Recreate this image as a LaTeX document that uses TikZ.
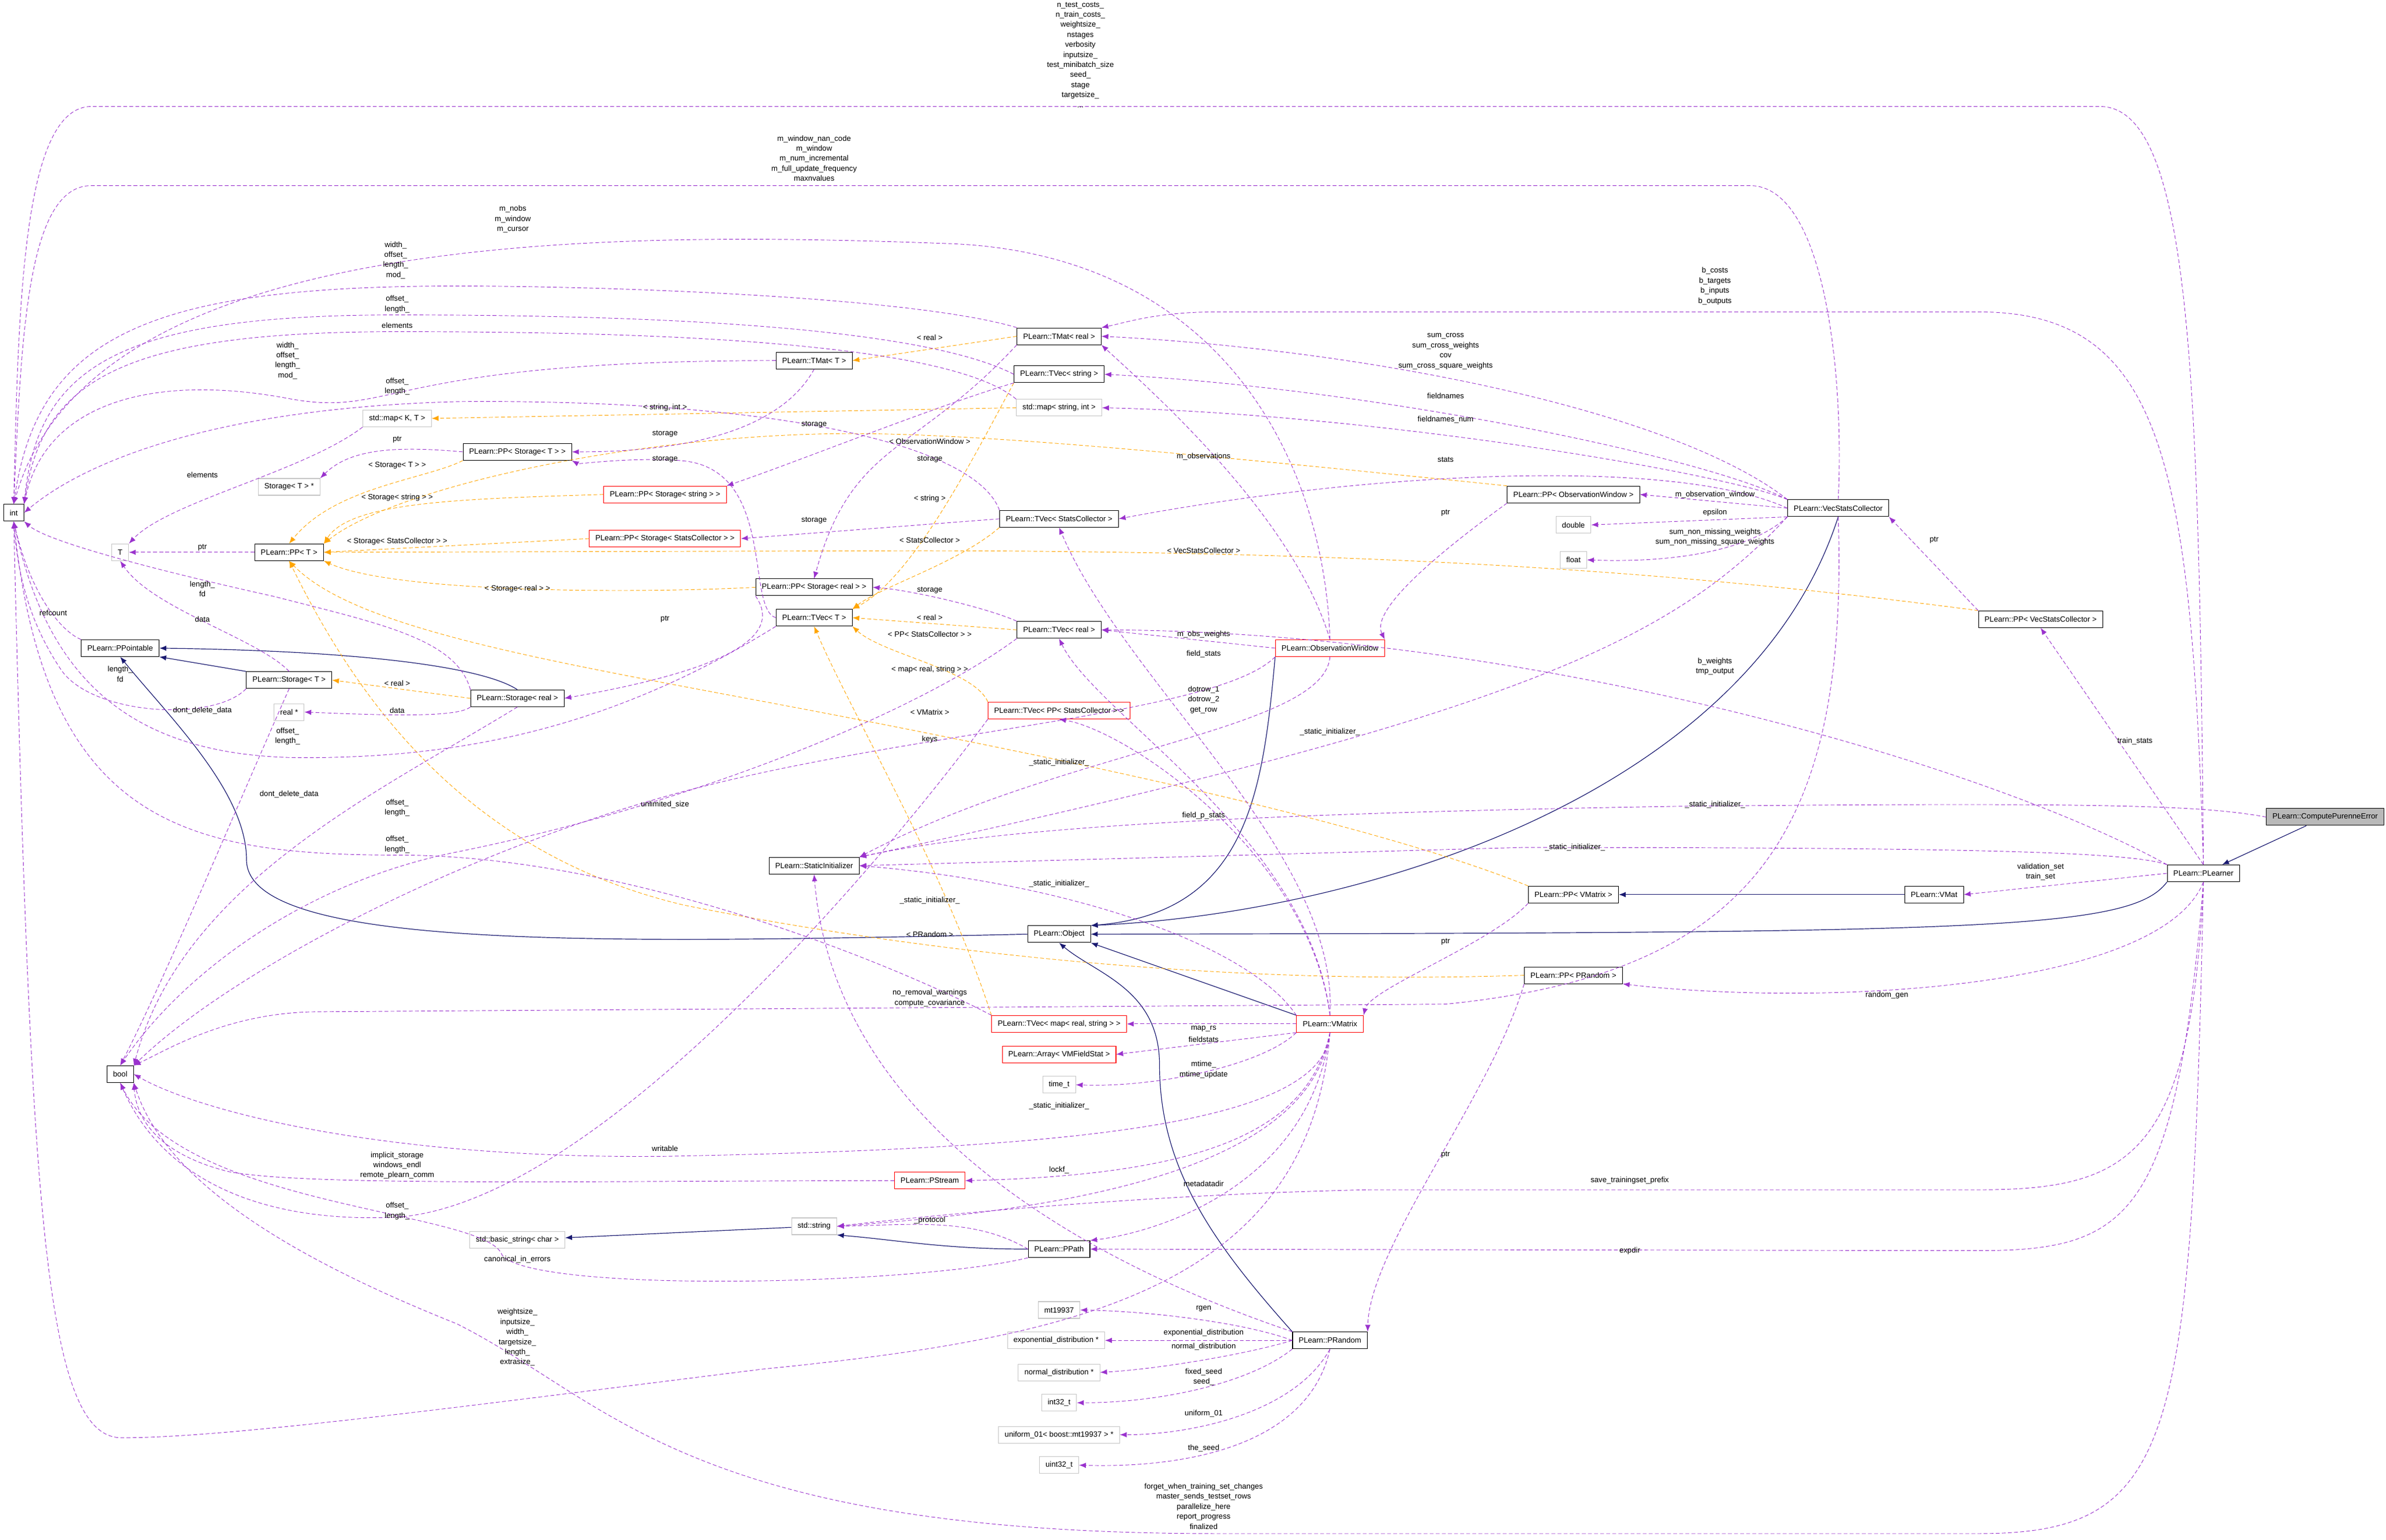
\documentclass[tikz,border=0pt]{standalone}
\usepackage{fontspec}
\setmainfont{Liberation Sans}
\usetikzlibrary{arrows.meta}
\definecolor{purp}{HTML}{9A32CD}
\definecolor{orng}{HTML}{FFA500}
\definecolor{navyb}{HTML}{191970}
\begin{document}
\begin{tikzpicture}[x=1pt,y=-1pt,
  every node/.style={font=\fontsize{5}{6.6}\selectfont},
  box/.style={draw=black,minimum height=11pt,inner xsep=4pt,inner ysep=1pt},
  gbox/.style={draw=gray!45,minimum height=11pt,inner xsep=4pt,inner ysep=1pt},
  rbox/.style={draw=red,minimum height=11pt,inner xsep=4pt,inner ysep=1pt},
  cbox/.style={draw=black,fill=gray!55,minimum height=11pt,inner xsep=4pt,inner ysep=1pt},
  lab/.style={align=center,inner sep=0pt},
  mem/.style={draw=purp,dash pattern=on 2.5pt off 1.5pt,line width=0.35pt,-{Latex[length=4.5pt,width=3.5pt]}},
  tpl/.style={draw=orng,dash pattern=on 2.5pt off 1.5pt,line width=0.35pt,-{Latex[length=4.5pt,width=3.5pt]}},
  inh/.style={draw=navyb,line width=0.45pt,-{Latex[length=4.5pt,width=3.5pt]}}]
\useasboundingbox (0,0) rectangle (1568,1012);
% nodes
\node[box] (int) at (9,337) {int};
\node[gbox] (T) at (79,363) {T};
\node[box] (ppT) at (190,363) {PLearn::PP< T >};
\node[box] (ppo) at (79,426) {PLearn::PPointable};
\node[box] (storT) at (190,447) {PLearn::Storage< T >};
\node[gbox] (realp) at (190,468) {real *};
\node[box] (storR) at (340,459) {PLearn::Storage< real >};
\node[gbox] (storTp) at (190,320) {Storage< T > *};
\node[gbox] (mapKT) at (261,275) {std::map< K, T >};
\node[box] (ppST) at (340,297) {PLearn::PP< Storage< T > >};
\node[rbox] (ppSS) at (437,325) {PLearn::PP< Storage< string > >};
\node[rbox] (ppSSC) at (437,354) {PLearn::PP< Storage< StatsCollector > >};
\node[box] (tmatT) at (535,237) {PLearn::TMat< T >};
\node[box] (tmatR) at (696,221) {PLearn::TMat< real >};
\node[box] (tvecS) at (696,246) {PLearn::TVec< string >};
\node[gbox] (mapSI) at (696,268) {std::map< string, int >};
\node[box] (tvecSC) at (696,341) {PLearn::TVec< StatsCollector >};
\node[box] (ppSR) at (535,386) {PLearn::PP< Storage< real > >};
\node[box] (tvecT) at (535,406) {PLearn::TVec< T >};
\node[box] (tvecR) at (696,414) {PLearn::TVec< real >};
\node[rbox] (ow) at (874,426) {PLearn::ObservationWindow};
\node[rbox] (tvecPPSC) at (696,467) {PLearn::TVec< PP< StatsCollector > >};
\node[box] (si) at (535,569) {PLearn::StaticInitializer};
\node[box] (obj) at (696,614) {PLearn::Object};
\node[box] (ppVM) at (1034,588) {PLearn::PP< VMatrix >};
\node[box] (vmat) at (1271,588) {PLearn::VMat};
\node[box] (pl) at (1448,574) {PLearn::PLearner};
\node[cbox] (cpe) at (1528,537) {PLearn::ComputePurenneError};
\node[box] (ppPR) at (1034,641) {PLearn::PP< PRandom >};
\node[rbox] (vm) at (874,673) {PLearn::VMatrix};
\node[rbox] (tvecMap) at (696,673) {PLearn::TVec< map< real, string > >};
\node[rbox] (arr) at (696,693) {PLearn::Array< VMFieldStat >};
\node[gbox] (timet) at (696,713) {time\_t};
\node[rbox] (pstream) at (611,776) {PLearn::PStream};
\node[gbox] (stdstr) at (535,806) {std::string};
\node[gbox] (bstr) at (340,815) {std::basic\_string< char >};
\node[box] (ppath) at (696,821) {PLearn::PPath};
\node[box] (prand) at (874,881) {PLearn::PRandom};
\node[gbox] (mt) at (696,861) {mt19937};
\node[gbox] (expd) at (694,881) {exponential\_distribution *};
\node[gbox] (normd) at (696,902) {normal\_distribution *};
\node[gbox] (i32) at (696,922) {int32\_t};
\node[gbox] (unif) at (696,943) {uniform\_01< boost::mt19937 > *};
\node[gbox] (u32) at (696,963) {uint32\_t};
\node[box] (ppOW) at (1034,325) {PLearn::PP< ObservationWindow >};
\node[gbox] (dbl) at (1034,345) {double};
\node[gbox] (flt) at (1034,368) {float};
\node[box] (vsc) at (1208,334) {PLearn::VecStatsCollector};
\node[box] (ppVSC) at (1341,407) {PLearn::PP< VecStatsCollector >};
\node[box] (bool) at (79,706) {bool};

% ---------- inheritance
\draw[inh] (cpe) -- (pl);
\draw[inh] (pl.south west) .. controls (1400,612) and (1300,613) .. (obj.east);
\draw[inh] (vsc.south) .. controls (1150,520) and (900,600) .. (obj.north east);
\draw[inh] (ow.south west) .. controls (830,520) and (820,600) .. (obj.north east);
\draw[inh] (vm.north west) -- (obj.south east);
\draw[inh] (prand.north west) .. controls (800,820) and (762,770) .. (762,700) .. controls (762,650) and (720,640) .. (obj.south);
\draw[inh] (obj.west) .. controls (400,620) and (162,625) .. (162,565) .. controls (162,520) and (110,470) .. (ppo.south);
\draw[inh] (storT.north west) -- (ppo.south east);
\draw[inh] (storR.north) .. controls (320,440) and (250,428) .. (ppo.east);
\draw[inh] (vmat) -- (ppVM);
\draw[inh] (stdstr) -- (bstr);
\draw[inh] (ppath.west) .. controls (620,821) and (590,815) .. (stdstr.south east);

% ---------- templates
\draw[tpl] (ppST.south west) .. controls (280,315) and (220,320) .. (ppT.north);
\draw[tpl] (ppSS.west) .. controls (300,328) and (230,330) .. (ppT.north east);
\draw[tpl] (ppSSC.west) -- (ppT.east);
\draw[tpl] (ppSR.west) .. controls (420,390) and (260,390) .. (ppT.south east);
\draw[tpl] (ppOW.north west) .. controls (800,300) and (650,285) .. (560,285) .. controls (420,285) and (260,320) .. (ppT.north east);
\draw[tpl] (ppVSC.north west) .. controls (1100,375) and (900,362) .. (600,362) -- (ppT.east);
\draw[tpl] (ppVM.north west) .. controls (900,540) and (700,500) .. (600,480) .. controls (400,440) and (240,420) .. (ppT.south);
\draw[tpl] (ppPR.west) .. controls (800,648) and (600,625) .. (450,595) .. controls (300,560) and (230,450) .. (ppT.south);
\draw[tpl] (tmatR.west) -- (tmatT.east);
\draw[tpl] (storR.west) -- (storT.east);
\draw[tpl] (mapSI.west) -- (mapKT.east);
\draw[tpl] (tvecS.south west) .. controls (640,300) and (600,380) .. (tvecT.north east);
\draw[tpl] (tvecSC.south west) .. controls (630,370) and (580,385) .. (tvecT.north east);
\draw[tpl] (tvecR.west) -- (tvecT.east);
\draw[tpl] (tvecPPSC.north west) .. controls (640,440) and (580,430) .. (tvecT.south east);
\draw[tpl] (tvecMap.north west) .. controls (620,570) and (560,470) .. (tvecT.south);

% ---------- members
\draw[mem] (pl.north) .. controls (1445,250) and (1440,70) .. (1380,70) -- (60,70) .. controls (15,70) and (12,200) .. (int.north);
\draw[mem] (vsc.north) .. controls (1212,250) and (1200,122) .. (1150,122) -- (60,122) .. controls (18,122) and (14,220) .. (int.north);
\draw[mem] (ow.north) .. controls (870,300) and (800,165) .. (620,160) .. controls (400,152) and (60,150) .. (int.north);
\draw[mem] (tmatR.north west) .. controls (600,195) and (400,188) .. (300,188) .. controls (100,188) and (25,220) .. (int.north);
\draw[mem] (tvecS.west) .. controls (600,212) and (400,207) .. (261,207) .. controls (80,207) and (25,240) .. (int.north east);
\draw[mem] (mapSI.north west) .. controls (620,222) and (400,218) .. (261,218) .. controls (80,218) and (28,250) .. (int.north east);
\draw[mem] (tmatT.west) .. controls (250,237) and (260,275) .. (190,262) .. controls (100,245) and (30,265) .. (int.north east);
\draw[mem] (tvecSC.north west) .. controls (640,290) and (500,262) .. (300,264) .. controls (150,268) and (60,300) .. (int.east);
\draw[mem] (tvecT.south west) .. controls (400,480) and (300,498) .. (200,498) .. controls (80,498) and (30,440) .. (int.south);
\draw[mem] (storT.south west) .. controls (140,475) and (60,470) .. (40,440) .. controls (20,410) and (12,380) .. (int.south);
\draw[mem] (storR.north west) .. controls (300,420) and (250,410) .. (180,392) .. controls (90,372) and (30,355) .. (int.south east);
\draw[mem] (ppo.north west) .. controls (40,415) and (20,390) .. (int.south);
\draw[mem] (ppT) -- (T);
\draw[mem] (mapKT.south west) .. controls (200,310) and (110,330) .. (T.north east);
\draw[mem] (storT.north) .. controls (170,420) and (100,400) .. (T.south);
\draw[mem] (ppST.west) .. controls (260,293) and (230,295) .. (storTp.north east);
\draw[mem] (tmatT.south) .. controls (520,270) and (480,297) .. (ppST.east);
\draw[mem] (tvecT.west) .. controls (490,400) and (510,310) .. (450,303) .. controls (420,300) and (380,305) .. (ppST.south east);
\draw[mem] (tvecS.south west) .. controls (620,265) and (520,305) .. (ppSS.north east);
\draw[mem] (tvecSC.west) -- (ppSSC.east);
\draw[mem] (tmatR.south west) .. controls (600,300) and (560,290) .. (ppSR.north);
\draw[mem] (tvecR.north west) .. controls (650,400) and (600,388) .. (ppSR.east);
\draw[mem] (ppSR.south west) .. controls (520,425) and (450,445) .. (storR.east);
\draw[mem] (storR.south west) .. controls (300,472) and (250,470) .. (realp.east);
\draw[mem] (storT.south) .. controls (160,520) and (110,640) .. (bool.north);
\draw[mem] (storR.south) .. controls (250,520) and (120,580) .. (bool.north east);
\draw[mem] (vsc.north west) .. controls (1100,270) and (900,230) .. (tmatR.east);
\draw[mem] (vsc.north west) .. controls (1120,300) and (900,255) .. (tvecS.east);
\draw[mem] (vsc.north west) .. controls (1130,310) and (900,272) .. (mapSI.east);
\draw[mem] (vsc.west) .. controls (1100,300) and (900,310) .. (tvecSC.east);
\draw[mem] (vsc.west) -- (ppOW.east);
\draw[mem] (vsc.south west) -- (dbl.east);
\draw[mem] (vsc.south west) .. controls (1150,362) and (1100,370) .. (flt.east);
\draw[mem] (vsc.south west) .. controls (1100,420) and (1000,470) .. (si.north east);
\draw[mem] (vsc.south) .. controls (1215,550) and (1150,640) .. (950,660) -- (210,665) .. controls (150,665) and (110,690) .. (bool.north east);
\draw[mem] (pl.north) .. controls (1440,300) and (1420,205) .. (1300,205) -- (800,205) .. controls (760,205) and (740,212) .. (tmatR.north east);
\draw[mem] (pl.north west) .. controls (1300,500) and (1000,415) .. (tvecR.east);
\draw[mem] (pl.north) -- (ppVSC.south);
\draw[mem] (pl.west) -- (vmat.east);
\draw[mem] (pl.south) .. controls (1420,650) and (1200,662) .. (ppPR.south east);
\draw[mem] (pl.north west) .. controls (1400,560) and (1300,557) .. (1000,557) -- (si.east);
\draw[mem] (cpe.west) .. controls (1450,530) and (1400,527) .. (1100,530) .. controls (800,535) and (650,545) .. (si.north east);
\draw[mem] (pl.south) .. controls (1430,800) and (1400,822) .. (1300,822) -- (ppath.east);
\draw[mem] (pl.south) .. controls (1440,760) and (1400,782) .. (1300,782) -- (900,782) .. controls (750,785) and (600,800) .. (stdstr.east);
\draw[mem] (pl.south) .. controls (1440,950) and (1430,1008) .. (1300,1008) -- (800,1008) .. controls (450,1008) and (400,920) .. (300,870) .. controls (200,830) and (110,780) .. (bool.south east);
\draw[mem] (ppVSC.north west) -- (vsc.south east);
\draw[mem] (ppOW.south west) .. controls (950,360) and (900,400) .. (ow.north east);
\draw[mem] (ow.north) .. controls (850,340) and (760,260) .. (tmatR.south east);
\draw[mem] (ow.west) -- (tvecR.east);
\draw[mem] (ow.south) .. controls (870,480) and (700,492) .. (si.north east);
\draw[mem] (ow.south west) .. controls (800,470) and (600,480) .. (450,520) .. controls (300,560) and (150,640) .. (bool.north east);
\draw[mem] (tvecR.south west) .. controls (600,470) and (450,530) .. (300,560) .. controls (200,580) and (120,640) .. (bool.north);
\draw[mem] (vm.west) -- (tvecMap.east);
\draw[mem] (vm.south west) -- (arr.east);
\draw[mem] (vm.south west) .. controls (830,700) and (760,715) .. (timet.east);
\draw[mem] (vm.north) .. controls (880,560) and (740,450) .. (tvecSC.south);
\draw[mem] (vm.north) .. controls (860,560) and (740,480) .. (tvecPPSC.south);
\draw[mem] (vm.north) .. controls (860,550) and (720,470) .. (tvecR.south);
\draw[mem] (vm.north west) .. controls (820,620) and (700,580) .. (si.east);
\draw[mem] (vm.south) .. controls (860,740) and (800,772) .. (pstream.east);
\draw[mem] (vm.south) .. controls (860,770) and (700,795) .. (stdstr.east);
\draw[mem] (vm.south) .. controls (860,780) and (760,810) .. (ppath.north east);
\draw[mem] (vm.south) .. controls (870,740) and (700,755) .. (437,760) .. controls (250,762) and (130,730) .. (bool.east);
\draw[mem] (vm.south) .. controls (860,850) and (700,880) .. (500,900) .. controls (300,925) and (150,945) .. (80,945) .. controls (30,945) and (20,800) .. (int.south);
\draw[mem] (ppVM.south west) .. controls (980,620) and (900,650) .. (vm.north east);
\draw[mem] (ppPR.south west) .. controls (980,720) and (900,820) .. (prand.north east);
\draw[mem] (prand.west) .. controls (820,870) and (760,862) .. (mt.east);
\draw[mem] (prand.west) -- (expd.east);
\draw[mem] (prand.west) .. controls (820,890) and (760,900) .. (normd.east);
\draw[mem] (prand.south west) .. controls (820,910) and (760,922) .. (i32.east);
\draw[mem] (prand.south) .. controls (850,930) and (780,943) .. (unif.east);
\draw[mem] (prand.south) .. controls (860,950) and (780,965) .. (u32.east);
\draw[mem] (prand.north west) .. controls (760,845) and (550,760) .. (si.south);
\draw[mem] (pstream.west) .. controls (400,776) and (200,780) .. (150,770) .. controls (110,760) and (90,740) .. (bool.south east);
\draw[mem] (ppath.west) .. controls (640,800) and (600,805) .. (stdstr.east);
\draw[mem] (ppath.south west) .. controls (600,845) and (350,850) .. (330,825) .. controls (320,795) and (120,795) .. (bool.south);
\draw[mem] (tvecMap.north west) .. controls (600,640) and (420,562) .. (261,562) .. controls (120,562) and (30,540) .. (int.south);
\draw[mem] (tvecPPSC.south west) .. controls (600,540) and (400,790) .. (261,800) .. controls (150,805) and (100,760) .. (bool.south);

% ---------- labels
\node[lab] (L1) at (710,36) {n\_test\_costs\_\\n\_train\_costs\_\\weightsize\_\\nstages\\verbosity\\inputsize\_\\test\_minibatch\_size\\seed\_\\stage\\targetsize\_\\...};
\node[lab] (L2) at (535,104) {m\_window\_nan\_code\\m\_window\\m\_num\_incremental\\m\_full\_update\_frequency\\maxnvalues};
\node[lab] (L3) at (337,144) {m\_nobs\\m\_window\\m\_cursor};
\node[lab] (L4) at (260,171) {width\_\\offset\_\\length\_\\mod\_};
\node[lab] (L5) at (261,200) {offset\_\\length\_};
\node[lab] (L6) at (261,214) {elements};
\node[lab] (L7) at (189,237) {width\_\\offset\_\\length\_\\mod\_};
\node[lab] (L8) at (261,254) {offset\_\\length\_};
\node[lab] (L9) at (437,268) {< string, int >};
\node[lab] (L10) at (437,285) {storage};
\node[lab] (L11) at (261,289) {ptr};
\node[lab] (L12) at (261,306) {< Storage< T > >};
\node[lab] (L13) at (437,302) {storage};
\node[lab] (L14) at (261,327) {< Storage< string > >};
\node[lab] (L15) at (133,312) {elements};
\node[lab] (L16) at (133,360) {ptr};
\node[lab] (L17) at (261,356) {< Storage< StatsCollector > >};
\node[lab] (L18) at (133,387) {length\_\\fd};
\node[lab] (L19) at (340,387) {< Storage< real > >};
\node[lab] (L20) at (35,403) {refcount};
\node[lab] (L21) at (133,407) {data};
\node[lab] (L22) at (437,407) {ptr};
\node[lab] (L23) at (79,443) {length\_\\fd};
\node[lab] (L24) at (261,449) {< real >};
\node[lab] (L25) at (133,467) {dont\_delete\_data};
\node[lab] (L26) at (261,467) {data};
\node[lab] (L27) at (189,484) {offset\_\\length\_};
\node[lab] (L28) at (190,522) {dont\_delete\_data};
\node[lab] (L29) at (261,531) {offset\_\\length\_};
\node[lab] (L30) at (437,529) {unlimited\_size};
\node[lab] (L31) at (611,222) {< real >};
\node[lab] (L32) at (535,279) {storage};
\node[lab] (L33) at (611,290) {< ObservationWindow >};
\node[lab] (L34) at (611,302) {storage};
\node[lab] (L35) at (611,328) {< string >};
\node[lab] (L36) at (535,342) {storage};
\node[lab] (L37) at (611,355) {< StatsCollector >};
\node[lab] (L38) at (791,362) {< VecStatsCollector >};
\node[lab] (L39) at (611,388) {storage};
\node[lab] (L40) at (611,406) {< real >};
\node[lab] (L41) at (611,417) {< PP< StatsCollector > >};
\node[lab] (L42) at (791,417) {m\_obs\_weights};
\node[lab] (L43) at (791,430) {field\_stats};
\node[lab] (L44) at (611,440) {< map< real, string > >};
\node[lab] (L45) at (791,460) {dotrow\_1\\dotrow\_2\\get\_row};
\node[lab] (L46) at (611,468) {< VMatrix >};
\node[lab] (L47) at (611,486) {keys};
\node[lab] (L48) at (874,481) {\_static\_initializer\_};
\node[lab] (L49) at (696,501) {\_static\_initializer\_};
\node[lab] (L50) at (950,231) {sum\_cross\\sum\_cross\_weights\\cov\\sum\_cross\_square\_weights};
\node[lab] (L51) at (950,260) {fieldnames};
\node[lab] (L52) at (950,276) {fieldnames\_num};
\node[lab] (L53) at (791,300) {m\_observations};
\node[lab] (L54) at (950,302) {stats};
\node[lab] (L55) at (950,337) {ptr};
\node[lab] (L56) at (1127,325) {m\_observation\_window};
\node[lab] (L57) at (1127,337) {epsilon};
\node[lab] (L58) at (1127,353) {sum\_non\_missing\_weights\\sum\_non\_missing\_square\_weights};
\node[lab] (L59) at (1271,355) {ptr};
\node[lab] (L60) at (1127,438) {b\_weights\\tmp\_output};
\node[lab] (L61) at (1403,487) {train\_stats};
\node[lab] (L62) at (1127,529) {\_static\_initializer\_};
\node[lab] (L63) at (1035,557) {\_static\_initializer\_};
\node[lab] (L64) at (1341,573) {validation\_set\\train\_set};
\node[lab] (L65) at (1127,188) {b\_costs\\b\_targets\\b\_inputs\\b\_outputs};
\node[lab] (L66) at (791,536) {field\_p\_stats};
\node[lab] (L67) at (696,581) {\_static\_initializer\_};
\node[lab] (L68) at (611,592) {\_static\_initializer\_};
\node[lab] (L69) at (611,614) {< PRandom >};
\node[lab] (L70) at (950,619) {ptr};
\node[lab] (L71) at (611,656) {no\_removal\_warnings\\compute\_covariance};
\node[lab] (L72) at (1240,654) {random\_gen};
\node[lab] (L73) at (791,676) {map\_rs};
\node[lab] (L74) at (791,683) {fieldstats};
\node[lab] (L75) at (791,703) {mtime\_\\mtime\_update};
\node[lab] (L76) at (696,727) {\_static\_initializer\_};
\node[lab] (L77) at (950,759) {ptr};
\node[lab] (L78) at (696,769) {lockf\_};
\node[lab] (L79) at (791,778) {metadatadir};
\node[lab] (L80) at (1071,776) {save\_trainingset\_prefix};
\node[lab] (L81) at (611,802) {\_protocol};
\node[lab] (L82) at (1071,822) {expdir};
\node[lab] (L83) at (791,860) {rgen};
\node[lab] (L84) at (791,876) {exponential\_distribution};
\node[lab] (L85) at (791,885) {normal\_distribution};
\node[lab] (L86) at (791,905) {fixed\_seed\\seed\_};
\node[lab] (L87) at (791,929) {uniform\_01};
\node[lab] (L88) at (791,952) {the\_seed};
\node[lab] (L89) at (791,990) {forget\_when\_training\_set\_changes\\master\_sends\_testset\_rows\\parallelize\_here\\report\_progress\\finalized};
\node[lab] (L90) at (261,555) {offset\_\\length\_};
\node[lab] (L91) at (261,766) {implicit\_storage\\windows\_endl\\remote\_plearn\_comm};
\node[lab] (L92) at (437,755) {writable};
\node[lab] (L93) at (261,796) {offset\_\\length\_};
\node[lab] (L94) at (340,828) {canonical\_in\_errors};
\node[lab] (L95) at (340,879) {weightsize\_\\inputsize\_\\width\_\\targetsize\_\\length\_\\extrasize\_};
\end{tikzpicture}
\end{document}
